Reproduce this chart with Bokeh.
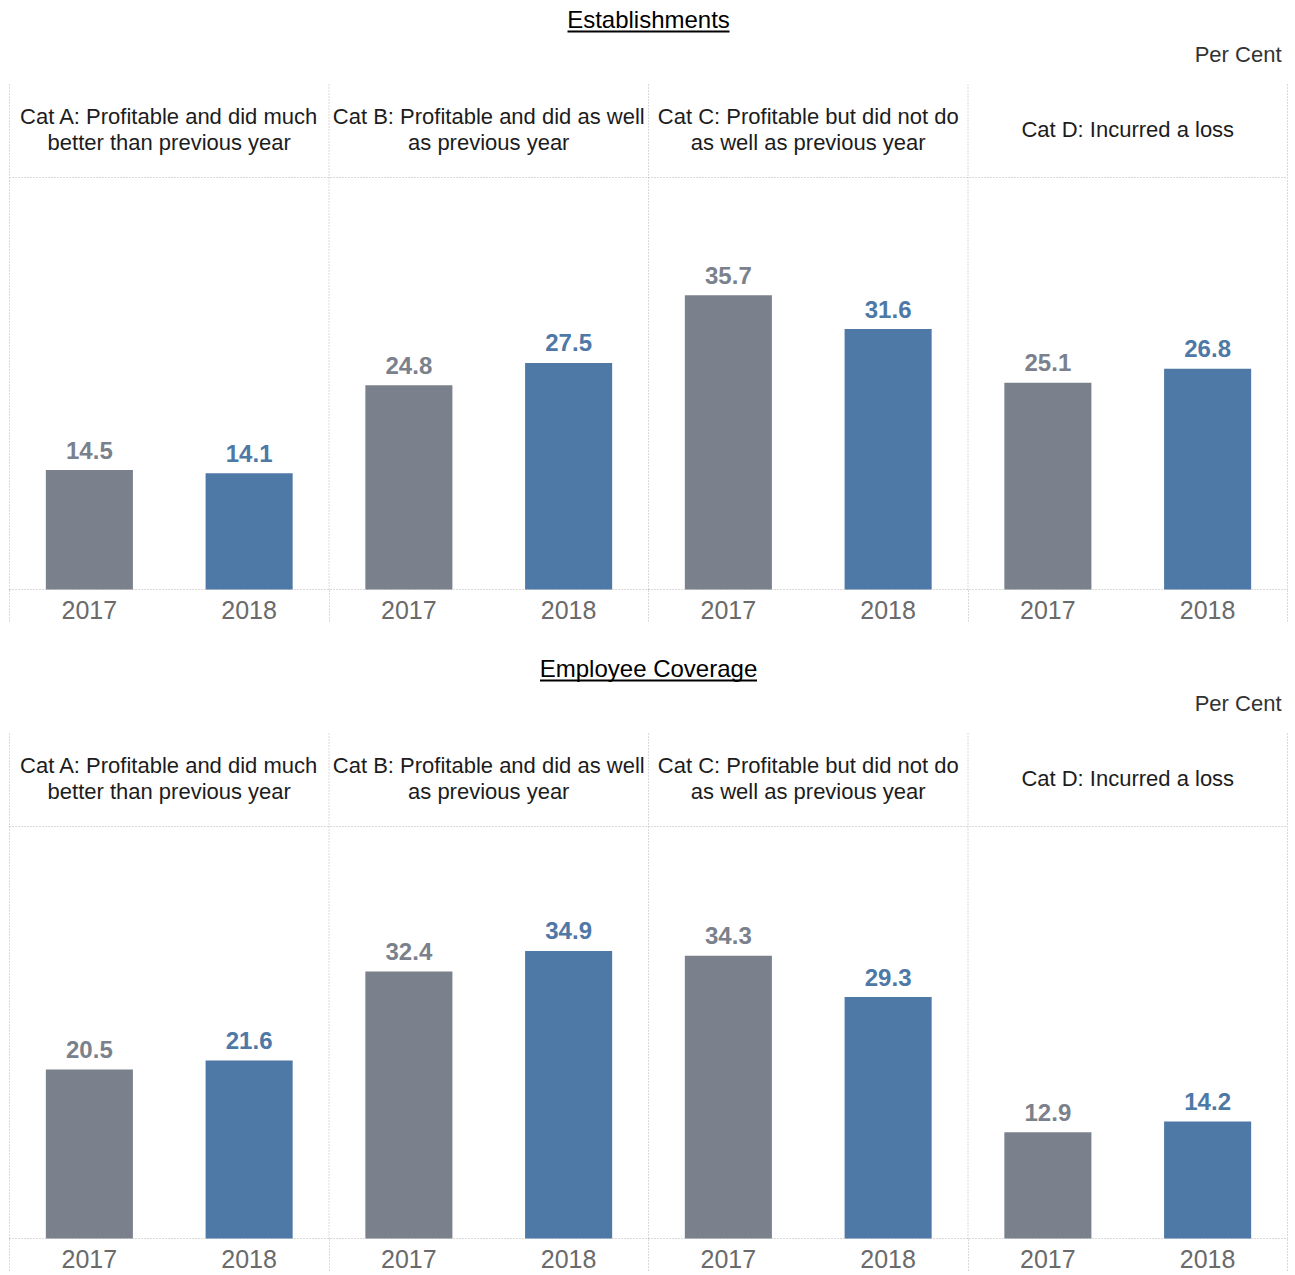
from bokeh.plotting import figure
from bokeh.layouts import column
from bokeh.models import Range1d, FixedTicker, ColumnDataSource
from bokeh.core.properties import value
from bokeh.embed import file_html
from bokeh.resources import INLINE

# ---- data ----
categories = ["Cat A", "Cat B", "Cat C", "Cat D"]
category_headers = [
    "Cat A: Profitable and did much\nbetter than previous year",
    "Cat B: Profitable and did as well\nas previous year",
    "Cat C: Profitable but did not do\nas well as previous year",
    "Cat D: Incurred a loss",
]
years = ["2017", "2018"]
establishments_2017 = [14.5, 24.8, 35.7, 25.1]
establishments_2018 = [14.1, 27.5, 31.6, 26.8]
employees_2017 = [20.5, 32.4, 34.3, 12.9]
employees_2018 = [21.6, 34.9, 29.3, 14.2]
panel_titles = ["Establishments", "Employee Coverage"]
unit_label = "Per Cent"

# ---- style ----
FONT = "Liberation Sans"
GRAY = "#7b818c"
BLUE = "#4e78a5"
GRID = "#b4b4b4"
W = 1295
PX_PER_X = 159.75      # px per x unit
PX_PER_Y = 8.24        # px per y unit
LEFT_PX = 9
BASE_PX = 589
LABEL_GAP_PX = 20


def X(px):
    return (px - LEFT_PX) / PX_PER_X


def Y(px):
    return (BASE_PX - px) / PX_PER_Y


def panel(title, v2017, v2018, height, title_width_px):
    frame_h = 590
    p = figure(width=W, height=height, output_backend="svg", toolbar_location=None,
               x_range=Range1d(X(0), X(W)), y_range=Range1d(Y(frame_h), Y(0)),
               min_border_left=0, min_border_right=0, min_border_top=0,
               min_border_bottom=height - frame_h, y_axis_location=None)
    p.outline_line_color = None
    p.xgrid.visible = False
    p.ygrid.visible = False
    p.background_fill_color = "white"
    p.border_fill_color = "white"

    n = len(categories)
    ticks = []
    labels = {}
    for i in range(n):
        for j, yr in enumerate(years):
            t = 2 * i + 0.5 + j
            ticks.append(t)
            labels[t] = yr
    edges = [2 * i for i in range(n + 1)]

    ax = p.xaxis[0]
    ax.ticker = FixedTicker(ticks=ticks, minor_ticks=edges)
    ax.major_label_overrides = labels
    ax.axis_line_color = None
    ax.major_tick_line_color = None
    ax.minor_tick_in = 0
    ax.minor_tick_out = 31
    ax.minor_tick_line_color = GRID
    ax.minor_tick_line_dash = "1 2"
    ax.major_label_text_font = FONT
    ax.major_label_text_font_size = "25px"
    ax.major_label_text_color = "#6a6a6a"
    ax.major_label_standoff = -21

    # grid frame: vertical separators, header bottom line, baseline
    p.segment(x0=edges, y0=[0] * len(edges), x1=edges, y1=[Y(83)] * len(edges),
              line_color=GRID, line_width=1, line_dash="1 2")
    p.segment(x0=[0, 0], y0=[50, 0], x1=[2 * n, 2 * n], y1=[50, 0],
              line_color=GRID, line_width=1, line_dash="1 2")

    # bars
    gap = LABEL_GAP_PX / PX_PER_Y
    x17 = [2 * i + 0.5 for i in range(n)]
    x18 = [2 * i + 1.5 for i in range(n)]
    s17 = ColumnDataSource(dict(x=x17, top=v2017, ly=[v + gap for v in v2017],
                                lab=[f"{v:.1f}" for v in v2017]))
    s18 = ColumnDataSource(dict(x=x18, top=v2018, ly=[v + gap for v in v2018],
                                lab=[f"{v:.1f}" for v in v2018]))
    p.vbar(x="x", top="top", bottom=0, width=0.545, source=s17,
           fill_color=GRAY, line_color=None)
    p.vbar(x="x", top="top", bottom=0, width=0.545, source=s18,
           fill_color=BLUE, line_color=None)
    for src, col in ((s17, GRAY), (s18, BLUE)):
        p.text(x="x", y="ly", text="lab", source=src,
               text_align="center", text_baseline="alphabetic",
               text_font=value(FONT), text_font_style="bold",
               text_font_size="24px", text_color=col)

    # category headers
    p.text(x=[2 * i + 1 for i in range(n)], y=[Y(129)] * n, text=category_headers,
           text_align="center", text_baseline="middle", text_line_height=1.02,
           text_font=value(FONT), text_font_size="22px", text_color="#1c1c1c")

    # title with underline, unit label
    p.text(x=[X(648)], y=[Y(19)], text=[title], text_align="center",
           text_baseline="middle", text_font=value(FONT),
           text_font_size="24px", text_color="#000000")
    half = title_width_px / 2
    p.segment(x0=[X(648 - half)], y0=[Y(31)], x1=[X(648 + half)], y1=[Y(31)],
              line_color="#000000", line_width=2)
    p.text(x=[X(1281)], y=[Y(54)], text=[unit_label], text_align="right",
           text_baseline="middle", text_font=value(FONT),
           text_font_size="22px", text_color="#333333")
    return p


p1 = panel(panel_titles[0], establishments_2017, establishments_2018, 649, 162)
p2 = panel(panel_titles[1], employees_2017, employees_2018, 626, 217)
layout = column(p1, p2, spacing=0)

open("out.html", "w").write(file_html(layout, INLINE))
